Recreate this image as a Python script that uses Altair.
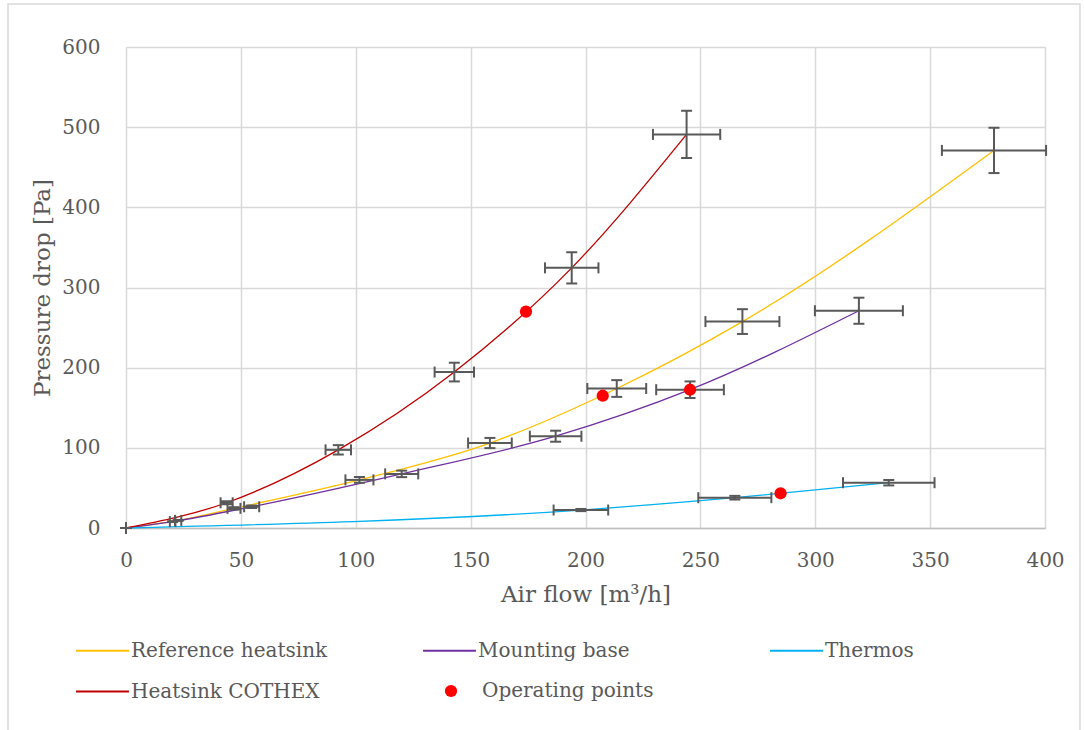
import altair as alt
import pandas as pd

# Measured pressure-drop curves: air flow [m3/h] against pressure drop [Pa]
ref_flow = [0, 22.7, 47.0, 101.6, 158.4, 213.6, 268.3, 377.8]
ref_dp = [0, 9.5, 24.5, 60.0, 106.0, 174.0, 257.5, 471.0]

base_flow = [0, 20.3, 54.7, 120.0, 187.0, 245.5, 319.0]
base_dp = [0, 8.0, 26.5, 67.5, 114.5, 172.5, 271.0]

thermos_flow = [0, 198.0, 265.0, 332.0]
thermos_dp = [0, 22.4, 37.8, 56.5]

cothex_flow = [0, 43.8, 92.4, 142.9, 194.0, 244.0]
cothex_dp = [0, 31.5, 97.5, 194.5, 324.5, 491.0]

# Fan operating points on each curve
op_flow = [174.1, 207.5, 245.5, 284.9]
op_dp = [270.0, 165.0, 172.5, 43.3]

series_names = ["Reference heatsink", "Mounting base", "Thermos", "Heatsink COTHEX"]
series_colors = ["#FFC000", "#7030A0", "#00B0F0", "#C00000"]
op_label = "Operating points"
op_color = "#FF0000"

x_ticks = [0, 50, 100, 150, 200, 250, 300, 350, 400]
y_ticks = [0, 100, 200, 300, 400, 500, 600]

# Relative measurement uncertainty applied to both flow and pressure
rel_unc = 0.06

FONT = "DejaVu Serif"
TEXT = "#595959"
ERR = "#595959"

rows = []
for name, fl, dp in zip(
    series_names,
    [ref_flow, base_flow, thermos_flow, cothex_flow],
    [ref_dp, base_dp, thermos_dp, cothex_dp],
):
    for i, (f, p) in enumerate(zip(fl, dp)):
        rows.append({"series": name, "idx": i, "flow": f, "dp": p})
curves = pd.DataFrame(rows)

err = curves.copy()
err["xlo"] = err["flow"] * (1 - rel_unc)
err["xhi"] = err["flow"] * (1 + rel_unc)
err["ylo"] = err["dp"] * (1 - rel_unc)
err["yhi"] = err["dp"] * (1 + rel_unc)

ops = pd.DataFrame({"flow": op_flow, "dp": op_dp, "label": [op_label] * len(op_flow)})

x_scale = alt.Scale(domain=[0, 400], nice=False)
y_scale = alt.Scale(domain=[0, 600], nice=False)
x_axis = alt.Axis(values=x_ticks, title="Air flow [m³/h]", labelFlush=False)
y_axis = alt.Axis(values=y_ticks, title="Pressure drop [Pa]", labelFlush=False)


def X(field):
    return alt.X(field, type="quantitative", scale=x_scale, axis=x_axis)


def Y(field):
    return alt.Y(field, type="quantitative", scale=y_scale, axis=y_axis)


frame = alt.Chart(alt.Data(values=[{"frame": 1}])).mark_rect(
    filled=False, stroke="#d9d9d9", strokeWidth=1.5
).encode(
    x=alt.value(-118), x2=alt.value(954), y=alt.value(-43), y2=alt.value(700)
)

lines = alt.Chart(curves).mark_line(strokeWidth=1.3, interpolate="monotone").encode(
    x=X("flow"),
    y=Y("dp"),
    color=alt.Color(
        "series:N",
        scale=alt.Scale(domain=series_names, range=series_colors),
        legend=alt.Legend(
            title=None,
            orient="none",
            legendX=-51,
            legendY=576,
            direction="horizontal",
            columns=3,
            gridAlign="all",
            columnPadding=91,
            rowPadding=3,
            symbolType="stroke",
            symbolSize=2800,
            symbolStrokeWidth=2,
            labelFont=FONT,
            labelFontSize=20,
            labelColor=TEXT,
            labelOffset=1,
            labelLimit=400,
        ),
    ),
    order="idx:Q",
)

h_bars = alt.Chart(err).mark_rule(color=ERR, strokeWidth=2).encode(
    x=X("xlo"), x2="xhi", y=Y("dp")
)
v_bars = alt.Chart(err).mark_rule(color=ERR, strokeWidth=2).encode(
    x=X("flow"), y=Y("ylo"), y2="yhi"
)
cap_l = alt.Chart(err).mark_tick(orient="vertical", size=11, thickness=2, color=ERR, opacity=1).encode(
    x=X("xlo"), y=Y("dp")
)
cap_r = alt.Chart(err).mark_tick(orient="vertical", size=11, thickness=2, color=ERR, opacity=1).encode(
    x=X("xhi"), y=Y("dp")
)
cap_b = alt.Chart(err).mark_tick(orient="horizontal", size=11, thickness=2, color=ERR, opacity=1).encode(
    x=X("flow"), y=Y("ylo")
)
cap_t = alt.Chart(err).mark_tick(orient="horizontal", size=11, thickness=2, color=ERR, opacity=1).encode(
    x=X("flow"), y=Y("yhi")
)

points = alt.Chart(ops).mark_circle(size=150, opacity=1).encode(
    x=X("flow"),
    y=Y("dp"),
    fill=alt.Fill(
        "label:N",
        scale=alt.Scale(domain=[op_label], range=[op_color]),
        legend=alt.Legend(
            title=None,
            orient="none",
            legendX=315,
            legendY=634,
            symbolType="circle",
            symbolSize=150,
            symbolStrokeWidth=0,
            labelFont=FONT,
            labelFontSize=20,
            labelColor=TEXT,
            labelOffset=21,
            labelLimit=400,
        ),
    ),
)

chart = alt.layer(
    frame, lines, h_bars, v_bars, cap_l, cap_r, cap_b, cap_t, points
).properties(
    width=919,
    height=481,
    autosize=alt.AutoSizeParams(type="none"),
    padding={"left": 126, "top": 47, "right": 40, "bottom": 202},
    background="white",
).configure_view(
    strokeWidth=0
).configure_axis(
    labelFont=FONT,
    labelFontSize=20,
    labelColor=TEXT,
    titleFont=FONT,
    titleFontSize=23,
    titleFontWeight="normal",
    titleColor=TEXT,
    gridColor="#d9d9d9",
    gridWidth=1.5,
    ticks=False,
    domain=False,
).configure_axisX(
    labelPadding=22,
    titlePadding=13,
    domain=True,
    domainColor="#bfbfbf",
    domainWidth=1.5,
).configure_axisY(
    labelPadding=26,
    titlePadding=7,
)

chart.save("out.html", embed_options={"renderer": "svg", "actions": False})
